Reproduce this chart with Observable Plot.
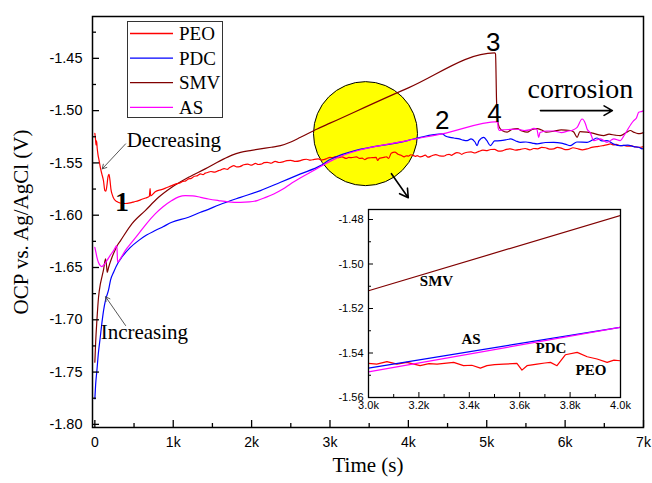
<!DOCTYPE html>
<html>
<head>
<meta charset="utf-8">
<script src="https://cdn.jsdelivr.net/npm/d3@7"></script>
<script src="https://cdn.jsdelivr.net/npm/@observablehq/plot@0.6"></script>
<style>
  html, body { margin: 0; padding: 0; background: #fff; overflow: hidden; }
  #chart { position: relative; width: 652px; height: 483px; }
  #inset { position: absolute; left: 326px; top: 203px; }
  #legend { position: absolute; left: 127px; top: 21px; }
</style>
</head>
<body>
<div id="chart"></div>
<script>
// Open-circuit potential (V vs. Ag/AgCl) against immersion time (s)
const seriesNames = ["PEO", "PDC", "SMV", "AS"];
const seriesColors = ["#ff0000", "#0000ff", "#800000", "#ff00ff"];

const peo = [
  [0,-1.5217],[8,-1.527],[15,-1.533],[22,-1.529],[30,-1.536],[40,-1.542],[55,-1.548],[73,-1.5555],
  [89,-1.5605],[110,-1.567],[128,-1.5765],[140,-1.577],[155,-1.571],[168,-1.563],[180,-1.561],
  [192,-1.566],[205,-1.575],[225,-1.581],[245,-1.5845],[280,-1.587],[330,-1.5885],[388,-1.5888],
  [450,-1.5882],[500,-1.5872],[557,-1.586],[600,-1.5848],[650,-1.5835],[695,-1.582],[705,-1.5745],
  [712,-1.5815],[770,-1.5775],[850,-1.5755],[920,-1.5735],
  [982,-1.5717],[1020,-1.5705],[1050,-1.5698],[1085,-1.5692],[1120,-1.5678],[1160,-1.5672],
  [1195,-1.5653],[1230,-1.5648],[1270,-1.5628],[1310,-1.5622],[1348,-1.5605],[1380,-1.5612],
  [1408,-1.5598],[1440,-1.5592],[1480,-1.5582],[1530,-1.5588],[1578,-1.5574],[1610,-1.5566],
  [1650,-1.5555],[1690,-1.5562],[1720,-1.5545],[1773,-1.5526],[1810,-1.5538],[1850,-1.5535],
  [1900,-1.5518],[1950,-1.5512],[2000,-1.5522],[2050,-1.5505],[2085,-1.5515],[2120,-1.5512],
  [2160,-1.5498],[2199,-1.5494],[2250,-1.5503],[2300,-1.5485],[2350,-1.5496],[2400,-1.549],
  [2450,-1.5478],[2500,-1.5475],[2560,-1.5486],[2624,-1.5478],[2660,-1.5468],[2700,-1.5465],
  [2750,-1.5474],[2800,-1.5466],[2850,-1.5462],[2890,-1.5472],[2921,-1.5468],[2960,-1.5458],
  [3000,-1.5447],[3033,-1.545],[3073,-1.5439],[3113,-1.545],[3152,-1.5442],[3205,-1.5457],
  [3240,-1.5448],[3272,-1.545],[3338,-1.5442],[3377,-1.5457],[3410,-1.5455],[3444,-1.5468],
  [3470,-1.5457],[3500,-1.5452],[3536,-1.545],[3589,-1.5447],[3609,-1.5477],[3629,-1.5457],
  [3669,-1.545],[3700,-1.5445],[3722,-1.5442],[3748,-1.5457],[3781,-1.5408],[3828,-1.5397],
  [3868,-1.5417],[3907,-1.5427],[3947,-1.5442],[3974,-1.5432],[4000,-1.5435],
  [4030,-1.5422],[4060,-1.5428],[4090,-1.5438],[4112,-1.543],[4150,-1.5442],[4180,-1.5438],
  [4215,-1.5426],[4250,-1.5445],[4300,-1.5432],[4350,-1.542],[4400,-1.5432],[4450,-1.5435],
  [4490,-1.5422],[4520,-1.5418],[4550,-1.5428],[4580,-1.5414],[4620,-1.5402],[4650,-1.5405],
  [4680,-1.5418],[4700,-1.541],[4750,-1.5398],[4800,-1.5395],[4850,-1.5405],[4900,-1.539],
  [4950,-1.5378],[5005,-1.5382],[5050,-1.5372],[5100,-1.537],[5150,-1.5388],[5200,-1.5385],
  [5250,-1.537],[5300,-1.5365],[5370,-1.5378],[5430,-1.537],[5490,-1.5362],[5550,-1.5375],
  [5600,-1.5362],[5650,-1.5365],[5700,-1.5352],[5750,-1.5355],[5800,-1.5368],[5855,-1.5365],
  [5900,-1.5352],[5950,-1.5358],[6000,-1.5372],[6050,-1.537],[6100,-1.5355],[6150,-1.5362],
  [6220,-1.5375],[6280,-1.5366],[6340,-1.5352],[6400,-1.5345],[6450,-1.5338],[6500,-1.5332],
  [6540,-1.5325],[6578,-1.5318],[6620,-1.5328],[6650,-1.5322],[6700,-1.5335],[6750,-1.5333],
  [6800,-1.534],[6850,-1.5338],[6900,-1.5348],[6960,-1.535],[7000,-1.5345]
];

const pdc = [
  [0,-1.7756],[10,-1.762],[26,-1.7486],[45,-1.732],[69,-1.7167],[90,-1.703],[111,-1.6912],
  [140,-1.68],[175,-1.6715],[200,-1.662],[242,-1.654],[300,-1.645],[344,-1.6402],[450,-1.631],
  [557,-1.6243],[660,-1.619],[770,-1.6147],[870,-1.611],[982,-1.6068],[1195,-1.602],[1348,-1.5972],
  [1408,-1.5956],[1590,-1.59],[1858,-1.5829],[2113,-1.5765],[2369,-1.5685],[2624,-1.5605],
  [2879,-1.5526],[3000,-1.5468],[4000,-1.5284],[4155,-1.5255],[4431,-1.5223],
  [4480,-1.5245],[4530,-1.5255],[4580,-1.5262],[4650,-1.527],[4700,-1.5282],[4750,-1.5287],
  [4800,-1.527],[4850,-1.53],[4878,-1.5335],[4900,-1.529],[4962,-1.5255],[5000,-1.5285],
  [5047,-1.5335],[5100,-1.529],[5175,-1.5287],[5240,-1.528],[5303,-1.5271],[5370,-1.529],
  [5430,-1.5303],[5500,-1.53],[5580,-1.531],[5643,-1.5318],[5750,-1.5305],[5855,-1.5303],
  [5950,-1.531],[6000,-1.532],[6067,-1.5335],[6150,-1.53],[6280,-1.5303],[6350,-1.528],
  [6408,-1.5262],[6470,-1.529],[6535,-1.5287],[6620,-1.532],[6705,-1.5335],[6800,-1.533],
  [6875,-1.5344],[6940,-1.535],[6982,-1.5366],[7000,-1.536]
];

const smv = [
  [0,-1.7406],[10,-1.722],[26,-1.7008],[47,-1.6785],[70,-1.666],[89,-1.6594],[111,-1.652],
  [136,-1.6418],[150,-1.649],[158,-1.6546],[175,-1.65],[220,-1.64],[260,-1.633],[286,-1.629],
  [328,-1.6243],[472,-1.6083],[643,-1.5956],[813,-1.5829],[982,-1.5733],[1195,-1.5638],
  [1408,-1.5557],[1603,-1.5478],[1750,-1.5425],[1858,-1.5399],[2000,-1.538],[2113,-1.5366],
  [2250,-1.535],[2369,-1.5335],[2500,-1.53],[2624,-1.5255],[2837,-1.5175],[3000,-1.512],
  [4000,-1.4782],[5100,-1.4448],[5112,-1.4458],[5125,-1.49],[5140,-1.5096],[5160,-1.516],
  [5196,-1.519],[5260,-1.5206],[5320,-1.518],[5388,-1.5173],[5450,-1.5195],[5516,-1.5206],
  [5580,-1.518],[5643,-1.5173],[5700,-1.5185],[5760,-1.5205],[5855,-1.5197],[5950,-1.5185],
  [6067,-1.519],[6110,-1.5205],[6153,-1.5255],[6190,-1.52],[6280,-1.5206],[6350,-1.5215],
  [6420,-1.523],[6492,-1.5239],[6560,-1.5225],[6640,-1.5235],[6705,-1.5239],[6780,-1.521],
  [6833,-1.519],[6875,-1.5206],[6930,-1.522],[6982,-1.5215],[7000,-1.521]
];

const as = [
  [0,-1.6307],[15,-1.636],[26,-1.6402],[45,-1.645],[69,-1.6482],[89,-1.6491],[120,-1.647],
  [153,-1.6434],[200,-1.638],[239,-1.6338],[281,-1.629],[290,-1.645],[330,-1.641],[388,-1.6338],
  [470,-1.626],[557,-1.6179],[660,-1.608],[770,-1.5988],[870,-1.592],[982,-1.586],[1070,-1.5825],
  [1153,-1.5813],[1250,-1.5815],[1348,-1.5829],[1450,-1.5845],[1578,-1.586],[1700,-1.5872],
  [1858,-1.5877],[1970,-1.5873],[2071,-1.586],[2180,-1.583],[2283,-1.5797],[2400,-1.575],
  [2496,-1.5701],[2620,-1.5645],[2751,-1.559],[2880,-1.5535],[3000,-1.5485],[4000,-1.5284],
  [4431,-1.5223],[5140,-1.5105],[5145,-1.5165],[5160,-1.519],[5200,-1.5185],[5300,-1.518],
  [5388,-1.5178],[5480,-1.519],[5560,-1.5182],[5600,-1.517],[5640,-1.518],[5663,-1.5255],
  [5680,-1.521],[5760,-1.5195],[5855,-1.5195],[5950,-1.521],[6040,-1.5195],[6100,-1.5185],
  [6153,-1.516],[6216,-1.508],[6259,-1.5125],[6280,-1.5175],[6320,-1.521],[6365,-1.5287],
  [6450,-1.527],[6535,-1.5303],[6620,-1.5271],[6705,-1.5287],[6750,-1.524],[6791,-1.519],
  [6840,-1.513],[6875,-1.5096],[6910,-1.507],[6939,-1.5016],[6982,-1.5007],[7000,-1.5]
];

// Main axis ticks
const xMajor = [0, 1000, 2000, 3000, 4000, 5000, 6000, 7000];
const xMinor = [500, 1500, 2500, 3500, 4500, 5500, 6500];
const yMajor = [-1.80, -1.75, -1.70, -1.65, -1.60, -1.55, -1.50, -1.45];
const yMinor = [-1.775, -1.725, -1.675, -1.625, -1.575, -1.525, -1.475, -1.425];

// Inset axis ticks
const insetXMajor = [3000, 3200, 3400, 3600, 3800, 4000];
const insetXMinor = [3100, 3300, 3500, 3700, 3900];
const insetYMajor = [-1.56, -1.54, -1.52, -1.50, -1.48];
const insetYMinor = [-1.55, -1.53, -1.51, -1.49];

const xTitle = "Time (s)";
const yTitle = "OCP vs. Ag/AgCl (V)";

// Annotations placed in data coordinates
const stageLabels = [
  {t: 345, v: -1.5877, text: "1"}
];
const stageNumbers = [
  {t: 4431, v: -1.5096, text: "2"},
  {t: 5082, v: -1.4347, text: "3"},
  {t: 5098, v: -1.5032, text: "4"}
];
const trendNotes = [
  {t: 406, v: -1.528, text: "Decreasing"},
  {t: 74, v: -1.712, text: "Increasing"}
];
const trendArrows = [
  {t1: 392, v1: -1.5318, t2: 94, v2: -1.5557},
  {t1: 392, v1: -1.7055, t2: 137, v2: -1.678}
];
const corrosionNote = [{t: 6195, v: -1.4795, text: "corrosion"}];
const boldArrows = [
  {t1: 5685, v1: -1.5, t2: 6603, v2: -1.5},
  {t1: 3784, v1: -1.5603, t2: 3999, v2: -1.5833}
];
const zoomSpot = [{t: 3453, v: -1.522}];

const insetNotes = [
  {t: 3270, v: -1.5079, text: "SMV"},
  {t: 3407, v: -1.5336, text: "AS"},
  {t: 3724, v: -1.5377, text: "PDC"},
  {t: 3883, v: -1.5477, text: "PEO"}
];

const serif = "'Liberation Serif', 'Times New Roman', serif";
const sans = "'Liberation Sans', Arial, sans-serif";

const seriesData = {PEO: peo, PDC: pdc, SMV: smv, AS: as};
const rows = (name) => seriesData[name].map(([t, v]) => ({t, v, name}));
const colorOf = (name) => seriesColors[seriesNames.indexOf(name)];
const drawOrder = ["SMV", "PEO", "PDC", "AS"];

const fmtK = (d) => d === 0 ? "0" : `${d / 1000}k`;
const fmtV = (d) => d.toFixed(2);
const blank = () => "";

const main = Plot.plot({
  width: 652,
  height: 483,
  marginLeft: 92,
  marginRight: 9,
  marginTop: 16,
  marginBottom: 56,
  x: {domain: [-30, 7000], label: null},
  y: {domain: [-1.803, -1.41], label: null},
  style: {background: "white"},
  marks: [
    Plot.dot(zoomSpot, {x: "t", y: "v", r: 52, fill: "#ffff00", stroke: "black", strokeWidth: 1}),
    ...drawOrder.map((name) => Plot.line(rows(name), {
      x: "t", y: "v", stroke: colorOf(name), strokeWidth: 1.2, curve: "monotone-x"
    })),
    Plot.frame({stroke: "black", strokeWidth: 1.5}),
    Plot.axisX(xMajor, {tickSize: 0, tickPadding: 10, tickFormat: fmtK, fontSize: 14, fontFamily: sans, fill: "black", label: null}),
    Plot.axisX(xMajor, {tickSize: 7, dy: -7, tickFormat: blank, strokeWidth: 1.3, label: null}),
    Plot.axisX(xMinor, {tickSize: 4, dy: -4, tickFormat: blank, strokeWidth: 1.3, label: null}),
    Plot.axisY(yMajor, {tickSize: 0, tickPadding: 10, tickFormat: fmtV, fontSize: 14.5, fontFamily: sans, fill: "black", label: null}),
    Plot.axisY(yMajor, {tickSize: 7, dx: 7, tickFormat: blank, strokeWidth: 1.3, label: null}),
    Plot.axisY(yMinor, {tickSize: 4, dx: 4, tickFormat: blank, strokeWidth: 1.3, label: null}),
    Plot.text([xTitle], {frameAnchor: "bottom", dy: 38, text: (d) => d, textAnchor: "middle", lineAnchor: "middle", fontSize: 21, fontFamily: serif, fill: "black"}),
    Plot.text([yTitle], {frameAnchor: "left", dx: -71, rotate: -90, text: (d) => d, textAnchor: "middle", lineAnchor: "middle", fontSize: 21, fontFamily: serif, fill: "black"}),
    Plot.text(stageLabels, {x: "t", y: "v", text: "text", fontSize: 28, fontWeight: "bold", fontFamily: serif, fill: "black"}),
    Plot.text(stageNumbers, {x: "t", y: "v", text: "text", fontSize: 26, fontFamily: sans, fill: "black"}),
    Plot.text(trendNotes, {x: "t", y: "v", text: "text", textAnchor: "start", fontSize: 21, fontFamily: serif, fill: "black"}),
    Plot.arrow(trendArrows, {x1: "t1", y1: "v1", x2: "t2", y2: "v2", stroke: "#444", strokeWidth: 0.9, headLength: 8}),
    Plot.text(corrosionNote, {x: "t", y: "v", text: "text", fontSize: 28, fontFamily: serif, fill: "black"}),
    Plot.arrow(boldArrows, {x1: "t1", y1: "v1", x2: "t2", y2: "v2", stroke: "black", strokeWidth: 1.6, headLength: 9})
  ]
});

const inRange = (name) => rows(name).filter((d) => d.t >= 2990 && d.t <= 4010);

const inset = Plot.plot({
  width: 312,
  height: 212,
  marginLeft: 42,
  marginRight: 18,
  marginTop: 6,
  marginBottom: 18,
  x: {domain: [3000, 4000], label: null},
  y: {domain: [-1.56, -1.4755], label: null},
  style: {background: "white"},
  marks: [
    ...drawOrder.map((name) => Plot.line(inRange(name), {
      x: "t", y: "v", stroke: colorOf(name), strokeWidth: 1.2, curve: "linear", clip: true
    })),
    Plot.frame({stroke: "black", strokeWidth: 1.3}),
    Plot.axisX(insetXMajor, {tickSize: 0, tickPadding: 4, tickFormat: (d) => `${(d / 1000).toFixed(1)}k`, fontSize: 11, fontFamily: sans, fill: "black", label: null}),
    Plot.axisX(insetXMajor, {tickSize: 5, dy: -5, tickFormat: blank, label: null}),
    Plot.axisX(insetXMinor, {tickSize: 3, dy: -3, tickFormat: blank, label: null}),
    Plot.axisY(insetYMajor, {tickSize: 0, tickPadding: 5, tickFormat: fmtV, fontSize: 11, fontFamily: sans, fill: "black", label: null}),
    Plot.axisY(insetYMajor, {tickSize: 5, dx: 5, tickFormat: blank, label: null}),
    Plot.axisY(insetYMinor, {tickSize: 3, dx: 3, tickFormat: blank, label: null}),
    Plot.text(insetNotes, {x: "t", y: "v", text: "text", fontSize: 15, fontWeight: "bold", fontFamily: serif, fill: "black"})
  ]
});
inset.id = "inset";

// Legend box with one swatch line per series
const legend = d3.create("svg")
  .attr("id", "legend")
  .attr("width", 96)
  .attr("height", 97);
legend.append("rect")
  .attr("x", 0.5).attr("y", 0.5).attr("width", 95).attr("height", 96)
  .attr("fill", "white").attr("stroke", "#333").attr("stroke-width", 1);
const items = legend.selectAll("g").data(seriesNames).join("g")
  .attr("transform", (d, i) => `translate(0,${12.5 + i * 24.6})`);
items.append("line")
  .attr("x1", 3).attr("x2", 46).attr("y1", 0).attr("y2", 0)
  .attr("stroke", (d) => colorOf(d)).attr("stroke-width", 1.3);
items.append("text")
  .attr("x", 52).attr("y", 0).attr("dy", "0.35em")
  .attr("font-family", serif).attr("font-size", 19)
  .text((d) => d);

const chart = document.getElementById("chart");
chart.append(main);
chart.append(inset);
chart.append(legend.node());
</script>
</body>
</html>
